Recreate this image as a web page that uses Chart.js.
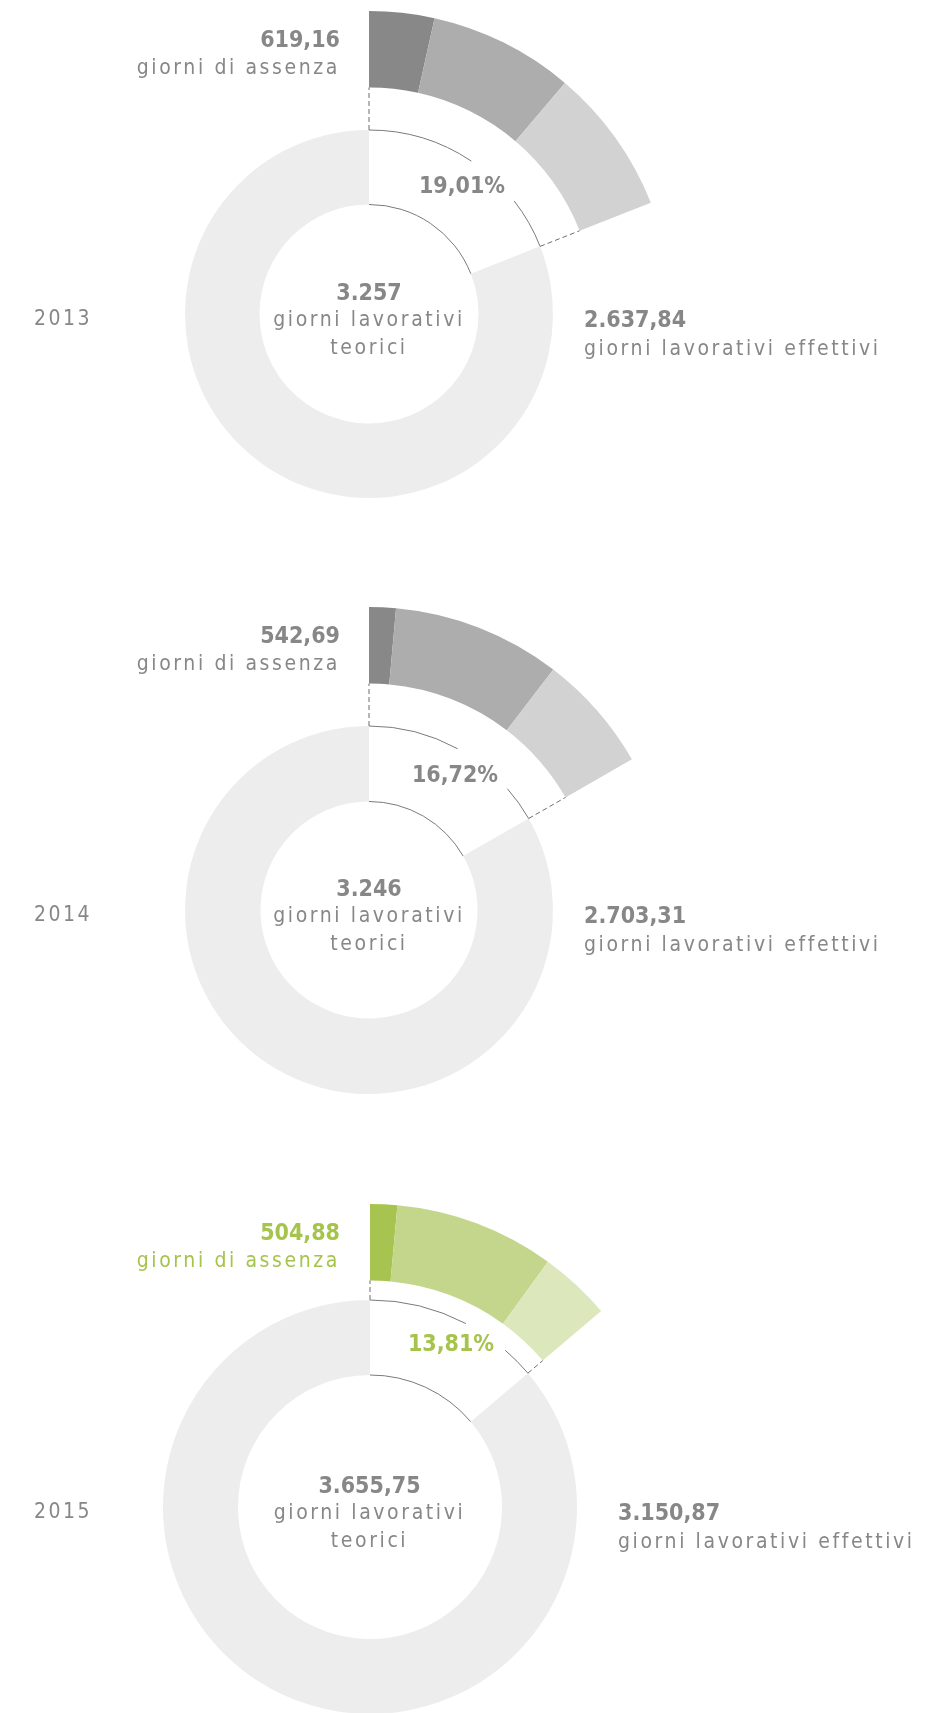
<!DOCTYPE html>
<html lang="it">
<head>
<meta charset="UTF-8">
<title>Giorni di assenza</title>
<script src="https://cdn.jsdelivr.net/npm/chart.js"></script>
<style>
    body {
        margin: 0;
        background: #ffffff;
        overflow: hidden;
    }
    #page {
        position: relative;
        width: 935px;
        height: 1713px;
        overflow: hidden;
        font-family: "DejaVu Sans Condensed", "DejaVu Sans", sans-serif;
        color: #878787;
    }
    #page canvas {
        position: absolute;
    }
    .lbl {
        position: absolute;
        white-space: nowrap;
        transform: translateY(-50%);
        line-height: 1;
    }
    .num {
        font-weight: bold;
        font-size: 23px;
        letter-spacing: 0;
    }
    .txt {
        font-size: 21px;
        letter-spacing: 2.6px;
    }
    .year {
        font-size: 21px;
        letter-spacing: 2.5px;
    }
    .green {
        color: #a6c34c;
    }
</style>
</head>
<body>
<div id="page"></div>

<script>
    // data
    const years = ['2013', '2014', '2015'];
    const theoreticalDays = [3257, 3246, 3655.75];
    const absenceDays = [619.16, 542.69, 504.88];
    const effectiveDays = [2637.84, 2703.31, 3150.87];
    const absencePct = [19.01, 16.72, 13.81];
    // absence split into three parts (estimated from the arc sizes)
    const absenceParts2013 = [113.1, 251.5, 254.56];
    const absenceParts2014 = [46.2, 291.6, 204.89];
    const absenceParts2015 = [52.8, 312.3, 139.78];
    const absenceParts = [absenceParts2013, absenceParts2014, absenceParts2015];

    // look
    const greyShades = ['#888888', '#adadad', '#d2d2d2'];
    const greenShades = ['#a8c450', '#c4d68b', '#dce7bc'];
    const ringColor = '#ededed';
    const none = 'rgba(0,0,0,0)';

    // where each doughnut sits (page pixels)
    const layout = [
        { cx: 369, cy: 314,  ringOut: 184, ringIn: 109.5, absIn: 226.5, gapFrom: 33.8, gapTo: 52.1, rightX: 584, pct: [462, 185], green: false },
        { cx: 369, cy: 910,  ringOut: 184, ringIn: 108.5, absIn: 226.5, gapFrom: 28.8, gapTo: 48.8, rightX: 584, pct: [455, 774], green: false },
        { cx: 369.5, cy: 1507, ringOut: 207, ringIn: 132, absIn: 226.5, gapFrom: 27.6, gapTo: 40.8, rightX: 618, pct: [451, 1343], green: true }
    ];
    const absOut = 303;
    const canvasSize = 620;

    function fmt(n, dec) {
        const parts = n.toFixed(dec).split('.');
        const int = parts[0].replace(/\B(?=(\d{3})+(?!\d))/g, '.');
        return parts[1] ? int + ',' + parts[1] : int;
    }

    // thin arcs round the missing wedge and dashed joins
    const guides = {
        id: 'guides',
        afterDatasetsDraw(chart, args, opts) {
            const ctx = chart.ctx;
            const outer = chart.getDatasetMeta(0).data[0];
            const wedge = chart.getDatasetMeta(2).data[0];
            const { x, y, startAngle, endAngle, innerRadius, outerRadius } = wedge;
            const absIn = outer.innerRadius;
            const top = -Math.PI / 2;
            const g1 = top + opts.gapFrom * Math.PI / 180;
            const g2 = top + opts.gapTo * Math.PI / 180;
            ctx.save();
            ctx.strokeStyle = '#7a7a7a';
            ctx.lineWidth = 1;
            ctx.beginPath();
            ctx.arc(x, y, innerRadius, startAngle, endAngle);
            ctx.stroke();
            ctx.beginPath();
            ctx.arc(x, y, outerRadius, startAngle, g1);
            ctx.stroke();
            ctx.beginPath();
            ctx.arc(x, y, outerRadius, g2, endAngle);
            ctx.stroke();
            ctx.setLineDash([5, 3]);
            ctx.strokeStyle = '#6f6f6f';
            [startAngle, endAngle].forEach(a => {
                ctx.beginPath();
                ctx.moveTo(x + Math.cos(a) * outerRadius, y + Math.sin(a) * outerRadius);
                ctx.lineTo(x + Math.cos(a) * absIn, y + Math.sin(a) * absIn);
                ctx.stroke();
            });
            ctx.restore();
        }
    };

    const page = document.getElementById('page');

    function addLabel(text, cls, x, y, align) {
        const el = document.createElement('div');
        el.className = 'lbl ' + cls;
        el.textContent = text;
        el.style.top = y + 'px';
        if (align === 'right') {
            el.style.right = (935 - x) + 'px';
        } else if (align === 'center') {
            el.style.left = x + 'px';
            el.style.transform = 'translate(-50%, -50%)';
        } else {
            el.style.left = x + 'px';
        }
        page.appendChild(el);
    }

    years.forEach((year, i) => {
        const L = layout[i];
        const shades = L.green ? greenShades : greyShades;

        const canvas = document.createElement('canvas');
        canvas.width = canvasSize;
        canvas.height = canvasSize;
        canvas.style.left = (L.cx - canvasSize / 2) + 'px';
        canvas.style.top = (L.cy - canvasSize / 2) + 'px';
        page.appendChild(canvas);

        new Chart(canvas.getContext('2d'), {
            type: 'doughnut',
            data: {
                labels: ['a', 'b', 'c', 'd'],
                datasets: [
                    {
                        data: [...absenceParts[i], effectiveDays[i]],
                        backgroundColor: [...shades, none],
                        borderWidth: 0,
                        weight: absOut - L.absIn
                    },
                    {
                        data: [theoreticalDays[i]],
                        backgroundColor: [none],
                        borderWidth: 0,
                        weight: L.absIn - L.ringOut
                    },
                    {
                        data: [absenceDays[i], effectiveDays[i]],
                        backgroundColor: [none, ringColor],
                        borderWidth: 0,
                        weight: L.ringOut - L.ringIn
                    }
                ]
            },
            options: {
                responsive: false,
                animation: false,
                events: [],
                radius: absOut,
                cutout: (L.ringIn / absOut * 100) + '%',
                layout: { padding: 0 },
                plugins: {
                    legend: { display: false },
                    tooltip: { enabled: false },
                    guides: { gapFrom: L.gapFrom, gapTo: L.gapTo }
                }
            },
            plugins: [guides]
        });

        const g = L.green ? ' green' : '';
        addLabel(fmt(absenceDays[i], 2), 'num' + g, 340, L.cy - 275, 'right');
        addLabel('giorni di assenza', 'txt' + g, 340, L.cy - 247, 'right');
        addLabel(fmt(absencePct[i], 2) + '%', 'num' + g, L.pct[0], L.pct[1], 'center');
        addLabel(fmt(theoreticalDays[i], Number.isInteger(theoreticalDays[i]) ? 0 : 2), 'num', L.cx, L.cy - 22, 'center');
        addLabel('giorni lavorativi', 'txt', L.cx, L.cy + 5, 'center');
        addLabel('teorici', 'txt', L.cx, L.cy + 33, 'center');
        addLabel(fmt(effectiveDays[i], 2), 'num', L.rightX, L.cy + 5, 'left');
        addLabel('giorni lavorativi effettivi', 'txt', L.rightX, L.cy + 34, 'left');
        addLabel(year, 'year', 34, L.cy + 4, 'left');
    });
</script>
</body>
</html>
